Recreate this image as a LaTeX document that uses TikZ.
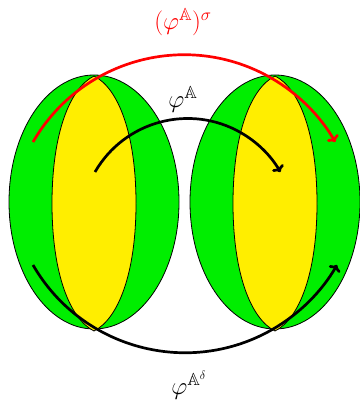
\documentclass[tikz,border=0pt]{standalone}
\usepackage{amsmath}
\usepackage{amssymb}
\usepackage{tikz}
\usetikzlibrary{arrows.meta}

\definecolor{ballgreen}{RGB}{0,238,0}
\definecolor{lensyellow}{RGB}{255,238,0}

\begin{document}
\begin{tikzpicture}[x=1pt, y=1pt,
    ball/.style={draw=black, fill=ballgreen, line width=0.8pt},
    lens/.style={draw=black, fill=lensyellow, line width=0.8pt},
    maparrow/.style={line width=2.7pt, -{To[length=6pt, width=13pt]}},
    maplabel/.style={font=\fontsize{25}{30}\selectfont}]
    \useasboundingbox (0,0) rectangle (359,401);
    % the two balls, each with its lens
    \foreach \c in {94, 275} {
        \draw[ball] (\c,199) ellipse[x radius=85, y radius=127];
        \draw[lens] (\c,325) .. controls (\c-24,313) and (\c-42,268) .. (\c-42,197.5)
                             .. controls (\c-42,127) and (\c-24,82) .. (\c,70)
                             .. controls (\c+24,82) and (\c+42,127) .. (\c+42,197.5)
                             .. controls (\c+42,268) and (\c+24,313) .. (\c,325) -- cycle;
    }
    % start points of the maps
    \coordinate (sigmastart) at (33,259);
    \coordinate (phistart) at (95,229);
    \coordinate (deltastart) at (33,136);
    \draw[maparrow, red] (sigmastart) arc[start angle=150, end angle=30, radius=174.5];
    \draw[maparrow] (phistart) arc[start angle=150, end angle=30, radius=107];
    \draw[maparrow] (deltastart) arc[start angle=210, end angle=330, radius=175.5];
    % labels
    \node[maplabel, red] (sigmalabel) at (183,379) {$(\varphi^{\mathbb{A}})^{\sigma}$};
    \node[maplabel] (philabel) at (183,302) {$\varphi^{\mathbb{A}}$};
    \node[maplabel] (deltalabel) at (189,16) {$\varphi^{\mathbb{A}^{\delta}}$};
\end{tikzpicture}
\end{document}
